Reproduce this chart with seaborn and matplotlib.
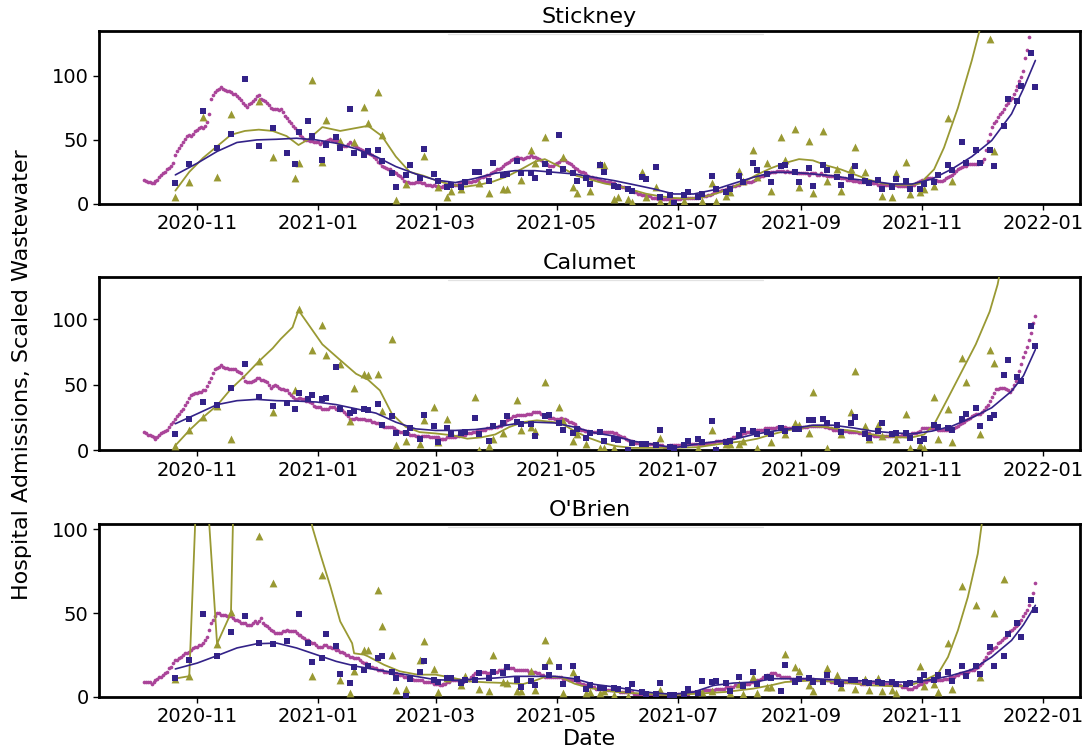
import numpy as np
import pandas as pd
import matplotlib
matplotlib.use("Agg")
import matplotlib.pyplot as plt
import matplotlib.dates as mdates
import seaborn as sns

NA = float("nan")

# ---------------- data ----------------
panel_names = ["Stickney", "Calumet", "O'Brien"]

admissions_start = "2020-10-05"   # daily hospital admissions (pink dots)

stickney_admissions = [
    19,18,17,17,16,16,18,19,21,23,24,25,27,28,30,32,38,41,44,46,48,51,53,54,53,55,57,
    58,59,60,59,61,64,70,82,85,87,89,90,91,90,89,88,88,87,86,86,84,83,81,79,77,76,78,79,80,82,
    84,85,82,81,80,79,77,75,74,74,74,73,74,72,69,67,65,63,61,59,57,56,54,52,51,50,50,49,49,48,48,
    48,47,48,48,49,50,51,50,50,49,49,48,46,45,45,47,48,47,46,45,44,43,42,41,41,40,39,38,37,35,33,
    32,30,29,28,27,27,26,25,24,23,22,20,18,17,17,16,16,16,17,17,17,16,16,15,15,15,14,15,
    14,14,13,13,14,14,15,15,14,15,15,15,16,16,16,16,17,17,17,18,18,19,20,21,21,22,23,23,24,25,26,
    27,27,28,30,31,32,33,34,35,36,37,36,36,35,36,37,37,38,37,37,36,35,34,33,32,31,30,30,30,31,
    32,33,34,34,34,33,32,31,30,28,27,26,25,25,24,23,22,21,21,20,20,19,19,18,18,17,17,17,16,16,15,
    15,14,13,13,12,12,11,10,9,9,8,8,7,7,6,6,6,5,5,5,4,4,4,4,4,4,4,4,4,4,
    4,4,5,5,5,5,5,5,5,5,5,6,6,6,6,7,7,8,9,9,10,10,11,11,12,12,13,13,14,14,15,
    15,16,16,16,17,17,17,18,19,20,21,22,22,23,24,24,25,25,25,26,26,26,26,25,26,25,25,25,25,24,24,
    24,24,24,24,23,24,24,24,23,23,24,23,23,22,22,22,22,21,21,21,20,20,20,19,19,19,18,18,18,17,
    17,17,17,17,16,16,16,16,16,15,15,15,15,15,15,15,15,15,15,14,14,14,14,14,14,14,15,15,16,17,18,
    19,19,20,20,20,20,19,19,18,18,18,19,20,21,22,23,24,26,27,28,29,30,30,31,31,31,31,31,31,32,
    33,35,42,49,55,60,63,65,68,70,72,74,77,79,81,83,86,89,92,96,99,104,114,120,130,138,145,152,
]

calumet_admissions = [
    14,13,12,12,11,10,9,10,12,13,14,15,16,18,20,22,24,26,28,30,32,35,37,40,42,43,44,
    44,45,45,46,46,49,52,55,59,62,63,64,65,64,63,63,62,62,62,62,61,60,59,56,53,52,52,52,53,54,
    55,55,54,54,53,52,50,48,49,50,49,48,47,47,46,46,44,42,41,39,39,40,40,39,39,38,38,37,36,34,33,
    33,33,32,32,32,32,33,33,33,32,32,31,31,29,28,26,24,24,24,25,24,24,24,24,23,23,23,22,22,21,21,
    20,19,18,18,18,18,18,17,16,15,14,14,13,13,13,12,12,12,11,11,10,11,11,11,11,10,10,10,
    10,10,9,9,9,9,10,10,10,10,10,11,11,12,12,12,13,13,13,14,14,15,15,16,16,16,17,17,17,18,18,
    18,19,19,20,21,23,24,25,26,26,27,27,27,27,27,28,28,28,29,29,29,29,28,27,27,26,25,25,25,24,
    24,24,25,24,24,23,22,22,21,20,18,17,16,16,15,15,15,14,14,14,14,14,14,14,14,14,14,14,14,13,13,
    12,11,10,10,9,8,7,7,6,6,6,6,6,6,5,5,5,5,5,5,4,4,4,3,3,3,4,4,4,4,
    4,4,4,4,5,5,5,5,5,5,5,5,5,5,6,6,6,6,6,7,7,7,7,8,8,8,9,9,10,10,11,
    12,12,13,13,14,14,15,15,15,16,16,16,16,17,17,17,17,17,17,18,18,18,18,18,17,17,17,17,17,18,18,
    18,18,18,18,19,19,19,19,19,19,19,19,18,18,17,17,16,16,16,15,15,15,15,15,14,14,14,14,14,13,
    13,13,13,13,13,12,12,11,11,11,11,11,11,11,11,11,11,11,11,11,11,12,12,12,12,12,13,13,13,14,15,
    17,17,17,17,17,17,17,17,16,16,16,16,16,16,16,17,17,18,19,20,21,22,23,24,25,26,27,28,28,28,
    29,31,33,35,38,41,44,47,47,48,48,48,47,46,45,47,50,53,57,61,66,71,75,79,84,90,97,103,
]

obrien_admissions = [
    9,9,9,9,8,9,10,11,12,12,13,14,15,17,18,20,22,22,23,24,25,26,26,27,28,29,30,
    30,31,31,32,34,36,40,44,46,48,50,50,49,49,49,48,48,48,47,46,46,45,44,44,44,43,43,43,44,45,
    44,45,47,44,43,42,41,40,39,38,38,38,38,39,39,40,39,39,39,39,38,37,37,36,35,34,34,33,32,32,31,
    30,30,30,31,31,30,30,29,29,28,28,27,27,26,25,25,24,24,23,23,23,22,21,20,20,19,18,18,17,17,16,
    16,16,15,15,15,15,14,14,14,13,13,13,12,12,12,11,11,10,10,10,10,10,9,9,9,9,9,8,
    8,8,7,7,8,8,9,9,10,10,10,10,10,9,9,10,10,10,12,13,14,15,15,15,15,15,14,14,15,15,15,
    15,16,16,16,17,17,17,17,17,16,16,16,16,16,16,16,15,15,15,15,14,14,13,13,12,12,12,12,12,12,
    12,12,12,11,11,11,10,10,10,10,9,9,8,8,7,7,7,6,6,6,5,5,5,5,5,4,4,4,4,4,4,
    4,3,3,3,3,3,3,3,2,2,2,2,2,2,2,2,1,1,1,1,1,1,1,1,1,1,1,1,1,2,
    2,2,2,2,2,2,3,3,3,3,3,3,3,4,4,4,4,4,4,5,5,5,5,5,6,6,6,6,6,7,7,
    7,7,8,8,8,8,9,9,9,10,10,11,12,12,13,13,14,14,14,13,13,12,12,12,12,12,11,11,11,11,11,
    11,11,11,11,11,11,11,10,10,10,10,10,10,10,10,9,9,9,9,9,9,9,9,9,9,9,9,9,9,9,
    8,8,8,8,9,9,9,9,9,9,9,9,8,8,8,8,8,8,8,7,7,6,6,6,5,5,5,6,6,7,8,
    8,9,9,10,10,10,10,10,10,10,10,11,11,11,12,12,12,13,13,14,14,14,15,15,16,16,16,17,18,19,
    20,22,24,26,27,28,29,30,32,33,34,35,36,38,39,40,41,42,43,44,46,48,50,52,55,58,62,68,
]

# wastewater sampling dates (navy squares / olive triangles)
sample_dates = [
    "2020-10-21","2020-10-28","2020-11-04","2020-11-11","2020-11-18","2020-11-25","2020-12-02",
    "2020-12-09","2020-12-16","2020-12-20","2020-12-22","2020-12-27","2020-12-29",
    "2021-01-03","2021-01-05","2021-01-10","2021-01-12","2021-01-17","2021-01-19","2021-01-24",
    "2021-01-26","2021-01-31","2021-02-02","2021-02-07","2021-02-09","2021-02-14","2021-02-16",
    "2021-02-21","2021-02-23","2021-02-28","2021-03-02","2021-03-07","2021-03-09","2021-03-14",
    "2021-03-16","2021-03-21","2021-03-23","2021-03-28","2021-03-30","2021-04-04","2021-04-06",
    "2021-04-11","2021-04-13","2021-04-18","2021-04-20","2021-04-25","2021-04-27","2021-05-02",
    "2021-05-04","2021-05-09","2021-05-11","2021-05-16","2021-05-18","2021-05-23","2021-05-25",
    "2021-05-30","2021-06-01","2021-06-06","2021-06-08","2021-06-13","2021-06-15","2021-06-20",
    "2021-06-22","2021-06-27","2021-06-29","2021-07-04","2021-07-06","2021-07-11","2021-07-13",
    "2021-07-18","2021-07-20","2021-07-25","2021-07-27","2021-08-01","2021-08-03","2021-08-08",
    "2021-08-10","2021-08-15","2021-08-17","2021-08-22","2021-08-24","2021-08-29","2021-08-31",
    "2021-09-05","2021-09-07","2021-09-12","2021-09-14","2021-09-19","2021-09-21","2021-09-26",
    "2021-09-28","2021-10-03","2021-10-05","2021-10-10","2021-10-12","2021-10-17","2021-10-19",
    "2021-10-24","2021-10-26","2021-10-31","2021-11-02","2021-11-07","2021-11-09","2021-11-14",
    "2021-11-16","2021-11-21","2021-11-23","2021-11-28","2021-11-30","2021-12-05","2021-12-07",
    "2021-12-12","2021-12-14","2021-12-19","2021-12-21","2021-12-26","2021-12-28",
]

stickney_scaled_ww = [
    16.7,31,72.7,43.5,54.4,97.4,45.6,59.4,39.8,
    31.2,56.5,64.6,53,34.4,46.4,52,43.7,
    74,39.6,38.5,41,42,33.3,24.2,13,23,30.5,20.6,43.2,
    23.4,18.2,13,14.6,13,17,25.3,25.3,18.2,32,23,23.4,33.9,24,24,20.6,31,
    25,54,27.3,24,18.2,20,15.6,30.7,24.7,14.3,13,
    11.7,10.4,21.4,19.5,28.6,5.7,7.3,0.5,7.3,9.6,5.7,7.8,22,11.7,9,11.7,
    22,17.4,32,26.6,23.4,17,30,30.7,24.7,17,28,14.3,30.7,26.6,21.4,15,21.4,29.4,
    18.2,16,19,11.7,13.5,19.5,18.2,11.7,11.7,15.6,17,23,30.7,26.6,
    48.4,32,42.4,32,42.4,29.7,61,82.3,80.2,92.2,118,91,
]
stickney_raw_ww = [
    5.2,17.4,68,21.4,70,NA,80.5,36.5,NA,
    20.6,32.3,NA,97,32.5,65.6,NA,49,
    NA,48,76,63.5,87.7,54,NA,3,15.4,NA,NA,37.8,
    NA,13,5.2,10.4,11.5,NA,NA,16,8.9,NA,11.7,11.7,NA,19,42,31.8,52.6,
    NA,NA,37,13.5,8.3,NA,10.4,31,30.5,4,5.5,
    4,1.5,24.7,5.2,13.5,2.6,1.3,NA,2.6,NA,NA,2.6,16,2.6,6.5,9,
    25.5,18.2,42.4,20.8,32,10,52,34.4,58.6,13.5,49,8.3,56.8,18.2,27.3,10,27.3,44.8,
    24.7,NA,NA,6.5,5.2,24,32.5,7.8,9,11.7,14.3,NA,67,18.2,
    160,180,200,160,129,41,200,220,250,230,260,280,
]

calumet_scaled_ww = [
    12.7,24,37,34.4,47.6,66,40.7,33.8,36.4,
    31.3,44,39.4,42.5,39.4,40.2,64,31.8,
    28.8,29.8,31.3,31,35.6,19.8,26.2,13.5,13.5,17.3,8.9,26.7,
    19,6.4,17,12.2,13,14,25,12.7,7.6,18.6,21,26.2,22,20.3,20.3,10.7,26,
    27,21,16,13.5,16.5,9.7,13,14.2,7.6,8.4,8,
    0.5,6,5,5,4,15.5,3,2,4,7.6,8.4,6.6,22.4,0,6.6,7.6,
    11.5,15.5,14.8,12.7,14,12.7,17.3,14.8,16.5,16.5,23,23,23.7,21,19.3,14.2,21,25.7,
    12.7,9.7,14.8,21,12.7,13.5,13.5,9.2,7.6,8.9,19.3,18,17.3,15.5,
    23.7,28.2,32.6,18.6,25,27,57.5,69.2,56,53.4,94.7,80,
]
calumet_raw_ww = [
    3.8,16,25.4,33.6,9,NA,68,29.2,NA,
    46.3,107.6,NA,76.9,95.4,73,NA,66,
    22.4,47.8,58.5,57.3,58.5,30.5,85.3,4.3,7.6,NA,5,23.4,
    33,6.4,23.7,NA,NA,NA,41,0,3.8,9,13.2,NA,38.7,15.3,18.3,14.5,52,
    NA,33,22.4,7,12.7,5,NA,2,2,2,NA,
    NA,NA,NA,NA,NA,9.7,NA,NA,NA,NA,2,NA,16,1,5,4.6,
    5,7,NA,2,NA,6.6,NA,12.7,21,19.3,13.5,44.8,NA,2,NA,12.7,29.3,60.5,
    18.6,8.4,19.8,11,NA,8.4,28.2,2,4,2,40.7,8.4,31.3,6.6,
    70.7,52,NA,12.7,76.6,66.4,180,220,200,250,300,280,
]

obrien_scaled_ww = [
    11.3,22.2,49.6,24.6,38.5,48,32,31.7,33.3,
    NA,49.4,32,20.8,23.4,37.7,30.6,13.9,
    8.5,17.9,15.9,18.3,23.2,24.2,14.7,11.3,0.4,10.7,15,21.6,
    9.9,8.7,11.3,11.3,8.3,9.9,10.3,14.3,11.3,14.7,14.3,17.9,10.3,6,9.3,7.3,17.9,
    13,17.9,7.5,18.5,11,5,7,5.6,5.6,5.4,5,
    4.4,7.5,3,2,1.5,8.3,1,1,2,5,2.4,9.3,8.9,9.5,8.3,3.6,
    11.9,6.3,14.9,7.5,11.9,11.5,3.4,18.8,8.9,10.5,11.3,8.9,8.9,12.9,8.9,7.5,9.9,9.9,
    8.9,8.3,8.9,8.3,8.9,7.5,7.5,8.3,10.3,12.9,9.9,12.9,14.9,9.3,
    18.5,12.3,18.5,13.5,29.8,18.5,24.2,37.3,44.2,35.7,58,51.6,
]
obrien_raw_ww = [
    10.9,12.7,NA,31.7,50.4,NA,96,67.9,NA,
    NA,NA,NA,12.3,72.8,NA,NA,9.9,
    2.4,15.3,27.8,27.8,63.5,42.5,25.2,4,4.8,NA,22.2,33.5,
    16.7,2.8,11.3,NA,7.3,12.3,NA,4.8,3.4,25.2,8.7,8.3,3.4,3.4,15.3,4,33.7,
    22.2,NA,2.4,14.9,NA,2.4,3,2.4,3.6,1,NA,
    0.4,NA,NA,NA,NA,4,NA,NA,NA,NA,NA,3,3.6,NA,NA,2.4,
    8,1.6,12,2.4,6,6,NA,25.8,17.9,15.5,7,3.6,NA,17.5,12.9,6,NA,5,
    11,4,11.5,3.6,4,2.4,NA,NA,18.5,6.3,7.5,3,32,5,
    66,NA,55,12,NA,50,70,NA,NA,NA,NA,NA,
]

# smooth trend of the navy (scaled) wastewater series
trend_dates = [
    "2020-10-21","2020-11-01","2020-11-11","2020-11-21","2020-12-01","2020-12-11","2020-12-21",
    "2020-12-31","2021-01-10","2021-01-20","2021-01-30","2021-02-09","2021-02-19","2021-03-01",
    "2021-03-11","2021-03-21","2021-03-31","2021-04-10","2021-04-20","2021-04-30","2021-05-10",
    "2021-05-20","2021-05-30","2021-06-09","2021-06-19","2021-06-29","2021-07-09","2021-07-19",
    "2021-07-29","2021-08-08","2021-08-18","2021-08-28","2021-09-07","2021-09-17","2021-09-27",
    "2021-10-07","2021-10-17","2021-10-27","2021-11-06","2021-11-16","2021-11-26","2021-12-06",
    "2021-12-16","2021-12-22","2021-12-28",
]
stickney_scaled_trend = [22.7,31.8,41,48,50,50.5,51.3,50,47.4,43,37,29.2,23.4,18.7,16.7,20,24,26,26,
                         24.7,23.4,20.8,18.2,15,11.7,7.8,7.8,11,16,20.8,24.7,24.7,23.4,22,19.5,17.7,
                         15.6,15.6,19.5,27.3,37,49.5,70.3,90,112]
calumet_scaled_trend = [20.4,28,35,38,39,38,37.7,37,35,31.8,28.5,21.6,16.5,15.3,15.3,16,17.8,20.4,21.6,
                        21,17.8,13.5,11,7,4.6,2,4.6,6.6,8.4,12.2,14.8,16.8,19.3,19.3,17.3,14.8,
                        13.5,12.7,14.8,18.6,25,32.6,45.3,57,77]
obrien_scaled_trend = [16.7,20.2,24.6,29.2,31.7,32.1,29.2,25.2,21.2,18.3,16.3,14.3,12.3,10.3,9.9,10.7,11.3,
                       12.3,12.3,12.3,10.9,7.5,6,4,2.4,1.6,3,6.9,8.3,8.9,10.9,10.9,10.9,10.3,9.9,
                       9.3,8.9,8.9,10.3,12.9,16.3,23.8,33.7,43,54.6]

# trend of the olive (raw) wastewater series
stickney_raw_trend_dates = [
    "2020-10-21","2020-10-28","2020-11-04","2020-11-11","2020-11-18","2020-11-25","2020-12-02",
    "2020-12-09","2020-12-16","2020-12-22","2020-12-27","2021-01-03","2021-01-12","2021-01-19",
    "2021-01-26","2021-02-02","2021-02-09","2021-02-16","2021-02-23","2021-03-02","2021-03-09",
    "2021-03-16","2021-03-23","2021-03-30","2021-04-06","2021-04-13","2021-04-20","2021-04-25",
    "2021-05-04","2021-05-11","2021-05-18","2021-05-25","2021-06-01","2021-06-08","2021-06-15",
    "2021-06-22","2021-06-29","2021-07-06","2021-07-13","2021-07-20","2021-07-27","2021-08-03",
    "2021-08-10","2021-08-17","2021-08-24","2021-08-31","2021-09-07","2021-09-14","2021-09-21",
    "2021-09-28","2021-10-05","2021-10-12","2021-10-19","2021-10-26","2021-10-31","2021-11-07",
    "2021-11-12","2021-11-19","2021-11-26","2021-11-30","2021-12-07",
]
stickney_raw_trend = [10.4,25,36,45,54,57,58,57,53,46,50.5,60,57,59,61,53,37,25,22,18,15,13.5,15,17.5,
                      21.5,27,33,35,28,22,19,16,14,11,8,6,4.7,4.2,5,8,12,17,23,28,32,35,34,30,27,
                      23,19,16,15,15,16,27,44,75,112,136,190]

calumet_raw_trend_dates = [
    "2020-10-21","2020-10-28","2020-11-04","2020-11-11","2020-11-18","2020-11-25","2020-12-02",
    "2020-12-09","2020-12-13","2020-12-19","2020-12-22","2021-01-03","2021-01-12","2021-01-20",
    "2021-01-26","2021-02-01","2021-02-07","2021-02-14","2021-02-21","2021-03-01","2021-03-10",
    "2021-03-17","2021-03-24","2021-03-31","2021-04-07","2021-04-14","2021-04-21","2021-04-25",
    "2021-05-03","2021-05-10","2021-05-17","2021-05-24","2021-05-31","2021-06-08","2021-06-20",
    "2021-06-30","2021-07-11","2021-07-20","2021-07-27","2021-08-03","2021-08-10","2021-08-17",
    "2021-08-24","2021-08-31","2021-09-07","2021-09-14","2021-09-21","2021-09-28","2021-10-05",
    "2021-10-12","2021-10-19","2021-10-26","2021-11-02","2021-11-07","2021-11-14","2021-11-21",
    "2021-11-28","2021-12-05","2021-12-09","2021-12-12","2021-12-19",
]
calumet_raw_trend = [3.8,15.3,25.4,34.4,47,57,68,78,85,94,107,81,69,58.5,54,45.8,28,18,14,13,11.5,
                     9,10,12.2,17.8,21.6,23,22.4,21,14.8,9.7,5.9,3.3,2,2,2,2.5,4.6,5.9,7,9,12.2,
                     14.8,17.3,18.6,17.8,16,14.8,12.7,11,10.2,9.7,12.2,19.8,40,60.5,81,106,126.7,
                     150,220]

obrien_raw_trend_dates = [
    "2020-10-21","2020-10-28","2020-10-31","2020-11-04","2020-11-07","2020-11-11","2020-11-18",
    "2020-11-19","2020-11-25","2020-12-05","2020-12-15","2020-12-24","2020-12-29","2021-01-02",
    "2021-01-07","2021-01-12","2021-01-18","2021-01-19","2021-01-24","2021-01-26","2021-02-03",
    "2021-02-11","2021-02-20","2021-03-01","2021-03-10","2021-03-18","2021-03-27","2021-04-06",
    "2021-04-14","2021-04-19","2021-04-25","2021-05-03","2021-05-10","2021-05-17","2021-05-24",
    "2021-05-31","2021-06-13","2021-06-27","2021-07-11","2021-07-25","2021-08-08","2021-08-17",
    "2021-08-24","2021-09-07","2021-09-21","2021-10-05","2021-10-19","2021-10-26","2021-11-02",
    "2021-11-09","2021-11-14","2021-11-19","2021-11-24","2021-11-29","2021-12-01","2021-12-05",
    "2021-12-12",
]
obrien_raw_trend = [11,12.4,104,160,104,31.7,50,104,200,260,220,140,101,85,66,45,32,26,25.2,24.2,
                    19.2,15.3,13.3,13.3,11.3,9.3,8.7,8.3,7.7,9.3,11.9,11.9,7.9,5.6,4,3,2,1,2,3,5,
                    7,8.9,9.9,8.9,7,6.3,7,9.9,13.9,23.8,39.7,59.5,85.3,103,140,200]

# ---------------- style ----------------
PINK = "#AA4499"
NAVY = "#332288"
OLIVE = "#999933"
Y_TOPS = [135, 132, 103]

sns.set_theme(style="ticks")
plt.rcParams["font.family"] = ["DejaVu Sans"]
plt.rcParams.update({
    "text.color": "black",
    "axes.labelcolor": "black",
    "xtick.color": "black",
    "ytick.color": "black",
    "axes.edgecolor": "black",
})

panels = [
    (stickney_admissions, stickney_scaled_ww, stickney_raw_ww, stickney_scaled_trend,
     stickney_raw_trend_dates, stickney_raw_trend),
    (calumet_admissions, calumet_scaled_ww, calumet_raw_ww, calumet_scaled_trend,
     calumet_raw_trend_dates, calumet_raw_trend),
    (obrien_admissions, obrien_scaled_ww, obrien_raw_ww, obrien_scaled_trend,
     obrien_raw_trend_dates, obrien_raw_trend),
]

fig, axes = plt.subplots(3, 1, figsize=(10.89, 7.54), dpi=100)
fig.subplots_adjust(left=0.0909, right=0.9917, top=0.9589, bottom=0.0756, hspace=0.425)

s_dates = pd.to_datetime(sample_dates)
t_dates = pd.to_datetime(trend_dates)

for ax, name, (adm, sq, tri, sq_tr, tri_tr_d, tri_tr), ytop in zip(axes, panel_names, panels, Y_TOPS):
    adm_dates = pd.date_range(admissions_start, periods=len(adm), freq="D")
    sns.scatterplot(x=adm_dates, y=np.asarray(adm, float), ax=ax, color=PINK, s=7,
                    linewidth=0, marker="o", zorder=2)
    sns.lineplot(x=pd.to_datetime(tri_tr_d), y=np.asarray(tri_tr, float), ax=ax, color=OLIVE,
                 linewidth=1.3, estimator=None, zorder=3)
    sns.scatterplot(x=s_dates, y=np.asarray(tri, float), ax=ax, color=OLIVE, s=32,
                    marker="^", linewidth=0, zorder=4)
    sns.lineplot(x=t_dates, y=np.asarray(sq_tr, float), ax=ax, color=NAVY,
                 linewidth=1.2, estimator=None, zorder=5)
    sns.scatterplot(x=s_dates, y=np.asarray(sq, float), ax=ax, color=NAVY, s=21,
                    marker="s", linewidth=0, zorder=6)

    ax.set_ylim(0, ytop)
    ax.set_yticks([0, 50, 100])
    ax.xaxis.set_major_locator(mdates.MonthLocator(bymonth=[1, 3, 5, 7, 9, 11]))
    ax.xaxis.set_major_formatter(mdates.DateFormatter("%Y-%m"))
    ax.tick_params(axis="both", labelsize=14, length=4, width=1,
                   color="black", labelcolor="black")
    ax.set_title(name, fontsize=16, pad=6, color="black")
    ax.set_xlabel("")
    ax.set_ylabel("")
    for sp in ax.spines.values():
        sp.set_color("black")
        sp.set_linewidth(2)
    ax.plot([0.356, 0.677], [0.984, 0.984], transform=ax.transAxes,
            color="#e2e2e2", linewidth=0.9, zorder=1)

axes[-1].set_xlabel("Date", fontsize=16, labelpad=2, color="black")
fig.text(0.02, 0.503, "Hospital Admissions, Scaled Wastewater", rotation=90,
         ha="center", va="center", fontsize=16, color="black")

fig.savefig("out.png", dpi=100)
